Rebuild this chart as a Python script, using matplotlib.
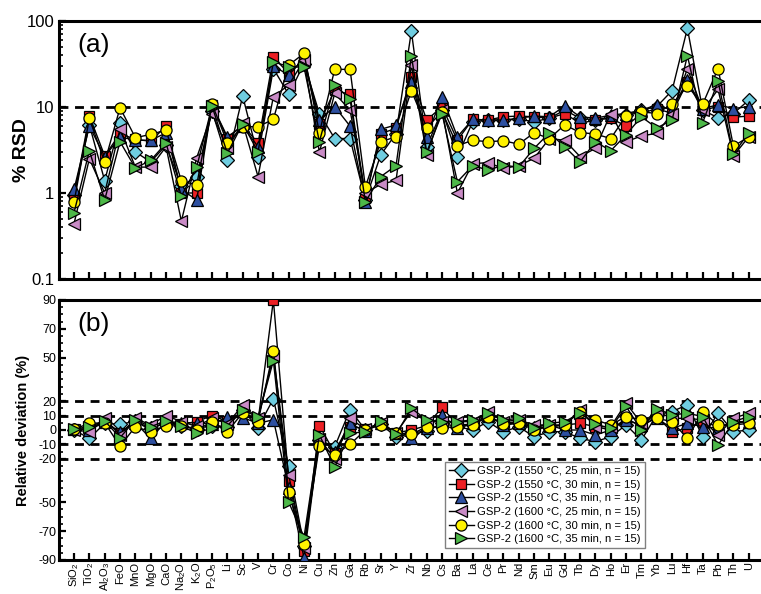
import numpy as np
import matplotlib
matplotlib.use('Agg')
import matplotlib.pyplot as plt
from matplotlib.ticker import FixedLocator, MultipleLocator, NullFormatter

plt.rcParams['font.family'] = ['Liberation Sans', 'DejaVu Sans']
plt.rcParams['mathtext.default'] = 'regular'

#categories on the x axis
elements = ['SiO$_2$', 'TiO$_2$', 'Al$_2$O$_3$', 'FeO', 'MnO', 'MgO', 'CaO', 'Na$_2$O', 'K$_2$O',
            'P$_2$O$_5$', 'Li', 'Sc', 'V', 'Cr', 'Co', 'Ni', 'Cu', 'Zn', 'Ga', 'Rb', 'Sr', 'Y',
            'Zr', 'Nb', 'Cs', 'Ba', 'La', 'Ce', 'Pr', 'Nd', 'Sm', 'Eu', 'Gd', 'Tb', 'Dy', 'Ho',
            'Er', 'Tm', 'Yb', 'Lu', 'Hf', 'Ta', 'Pb', 'Th', 'U']

labels = ['GSP-2 (1550 °C, 25 min, n = 15)',
          'GSP-2 (1550 °C, 30 min, n = 15)',
          'GSP-2 (1550 °C, 35 min, n = 15)',
          'GSP-2 (1600 °C, 25 min, n = 15)',
          'GSP-2 (1600 °C, 30 min, n = 15)',
          'GSP-2 (1600 °C, 35 min, n = 15)']

#(a) % RSD
rsd_1550_25 = [0.95, 6.2, 1.39, 6.6, 3.0, 2.3, 3.6, 1.2, 1.55, 9.0, 2.4, 13.4, 2.65, 28, 14.0,
               32, 8.4, 4.3, 4.3, 0.83, 2.77, 4.9, 76, 3.45, 9.2, 2.65, 6.75, 7.0, 7.05, 7.2,
               6.75, 7.4, 9.2, 7.4, 7.05, 7.7, 8.05, 9.2, 10.1, 15.5, 82, 9.2, 7.5, 8.4, 12.0]
rsd_1550_30 = [0.9, 7.9, 2.7, 4.9, 4.2, 4.0, 6.0, 1.0, 1.0, 10.6, 4.3, 6.2, 3.8, 37.9, 24.7,
               35.8, 6.4, 15.7, 14.0, 0.87, 4.9, 5.65, 22.5, 7.05, 10.1, 4.1, 7.2, 7.05, 7.7, 7.85,
               7.7, 7.4, 8.4, 6.45, 7.05, 7.4, 6.0, 8.4, 9.6, 8.4, 19.7, 9.2, 10.1, 7.6, 7.85]
rsd_1550_35 = [1.1, 6.0, 2.65, 4.5, 4.1, 4.1, 5.0, 1.1, 0.83, 10.5, 4.5, 6.0, 3.45, 30, 23.5,
               36.7, 7.1, 10.1, 6.0, 0.79, 5.5, 6.2, 19.6, 4.5, 13.2, 4.5, 7.2, 7.05, 7.05, 7.4,
               7.85, 7.7, 10.3, 7.7, 7.4, 8.05, 8.4, 9.2, 10.6, 9.2, 20.6, 9.6, 10.6, 9.6, 10.1]
rsd_1600_25 = [0.44, 2.5, 1.0, 5.6, 2.0, 2.0, 3.45, 0.47, 2.57, 8.4, 3.3, 6.5, 1.55, 13.2, 18,
               35, 2.97, 14.4, 9.2, 1.0, 1.26, 1.4, 30.7, 2.77, 9.2, 1.0, 2.2, 2.25, 1.93, 2.08,
               2.53, 4.3, 4.1, 2.65, 3.3, 8.4, 3.95, 4.6, 4.95, 8.4, 28, 9.2, 16, 2.7, 4.5]
rsd_1600_30 = [0.78, 7.4, 2.27, 9.8, 4.4, 4.8, 5.4, 1.38, 1.24, 10.8, 3.85, 5.9, 5.9, 7.2, 30.7,
               42, 5.0, 27.4, 27.4, 1.18, 3.95, 4.5, 15.5, 5.75, 8.8, 3.55, 4.1, 3.95, 4.05, 3.7,
               5.0, 4.3, 6.2, 5.05, 4.85, 4.3, 7.9, 8.8, 8.4, 10.8, 17.5, 10.8, 28, 3.5, 4.5]
rsd_1600_35 = [0.59, 3.1, 0.83, 3.95, 1.95, 2.4, 3.8, 0.92, 2.0, 10.2, 2.9, 6.4, 3.0, 33.6, 29.4,
               29, 3.95, 18, 12.4, 0.79, 1.55, 2.08, 39.3, 3.0, 8.4, 1.35, 2.08, 1.85, 2.1, 2.0,
               3.3, 5.0, 3.45, 2.3, 3.95, 3.1, 4.75, 7.7, 5.7, 7.05, 39.5, 6.6, 20, 2.85, 5.0]

#(b) relative deviation (%)
dev_1550_25 = [0, -5.8, 4.6, 4, 6, 1.2, 5, 3, 1, 3, 2.3, 14, 1.5, 21.6, -25,
               -80, -6.9, -11.6, 14, 0, 4, -4.7, -2, -0.7, 4.6, 2.3, 0, 5.8, -1.2, 2.3,
               -4.7, -1.2, -1.2, -5.8, -8, -4.7, 3.5, -7, 10.5, 12.8, 17.4, -4.7, 11.6, -1.2, 0]
dev_1550_30 = [0.5, 1, 6, -2.3, 6, 0, 6, 4, 5.8, 10, 6, 12.8, 6, 90, -35,
               -84, 3.1, -16, 2.3, 1, 4, -2, 0, 3, 15.6, 3.5, 4, 9.3, 4.6, 5.8,
               1.2, 2.3, 3.5, 4.6, 2.3, 0, 8, 2.3, 9.3, -1.2, 1.2, 5.8, 2.3, 4.6, 5.8]
dev_1550_35 = [1, 0, 5.5, -1.2, 5, -5.8, 6, 5, 5.1, 4, 8.8, 8.6, 4.6, 7.1, -40,
               -88.5, -5, -15, 4.6, -1, 5, -2, -5.8, 1.2, 10.5, 1.2, 4.6, 10.5, 3.5, 4.6,
               2.3, 3.5, 0, 0, -3.5, 0, 7, 3.5, 8.1, 1.2, 4.6, 2.3, 1.2, 5.8, 5.8]
dev_1600_25 = [0, -1.2, 8, -3.5, 8, 3.5, 10, 5.8, 2.5, 8, 4.5, 17, 8, 51.4, -31.3,
               -82, -6, -19.8, 8.1, 0.5, 5, -2, 12.8, 5.8, 5.8, 5.8, 5.8, 12.8, 5.8, 7,
               3.5, 3.5, 3.5, 14, 2.3, 2.3, 18.6, 4.6, 12.8, 8.1, 8.1, 7, -3.5, 8.1, 11.6]
dev_1600_30 = [0.5, 4.6, 5, -11.2, 2.3, -1.2, 2.8, 3, 0, 5.8, -1.2, 12, 5.8, 55, -43,
               -79, -10.8, -17, -10, 0, 3.5, -2, -3, 2.3, 1.6, 2.3, 3.5, 9.3, 4, 5,
               0, 2.3, 3.5, 12.8, 7, 3.5, 9.3, 7, 8.1, 5.8, -5.8, 12.8, 3.5, 3.5, 4.6]
dev_1600_35 = [0.7, 2.3, 6.3, -5.3, 7, 2.3, 6.3, 2.8, -2.3, 1.6, 3.0, 14, 8.8, 48, -50,
               -74, -3.4, -25.6, -2.3, -1.2, 6.3, -3.0, 15, 7, 5.8, 5.8, 7, 11.6, 7, 8,
               1.2, 4.6, 5.8, 11.6, 4, 1.2, 16.3, 0, 14.7, 10.5, 11.6, 9.3, -10.5, 5.8, 9.3]

rsd = [rsd_1550_25, rsd_1550_30, rsd_1550_35, rsd_1600_25, rsd_1600_30, rsd_1600_35]
dev = [dev_1550_25, dev_1550_30, dev_1550_35, dev_1600_25, dev_1600_30, dev_1600_35]

#marker style for each series
markers = ['D', 's', '^', '<', 'o', '>']
colors = ['#6fcde0', '#ec2024', '#2d4fa0', '#c98bc6', '#fff200', '#4db848']
msizes = [7.5, 7, 8.5, 8.5, 8, 8.5]

x = np.arange(len(elements))

fig = plt.figure(figsize=(7.61, 5.94), dpi=100)
ax1 = fig.add_axes([59/761, 1 - 279/594, 1 - 59/761, 258/594])
ax2 = fig.add_axes([59/761, 1 - 560/594, 1 - 59/761, 260/594])

dash = (0, (3.2, 2.4))

for ax in (ax1, ax2):
    for side in ('left', 'top', 'bottom'):
        ax.spines[side].set_linewidth(2.2)
    ax.spines['right'].set_visible(False)
    ax.set_xlim(-0.98, 44.8)
    ax.set_xticks(x)
    ax.tick_params(axis='x', direction='in', length=5, width=1.6, top=False)
    ax.tick_params(axis='y', which='major', direction='in', length=5, width=1.6, right=False)
    ax.tick_params(axis='y', which='minor', direction='in', length=3, width=1.2, right=False)

#plot series
for i in range(6):
    ax1.plot(x, rsd[i], color='black', lw=1, marker=markers[i], ms=msizes[i],
             mfc=colors[i], mec='black', mew=0.9, zorder=3 + i)
    ax2.plot(x, dev[i], color='black', lw=1, marker=markers[i], ms=msizes[i],
             mfc=colors[i], mec='black', mew=0.9, zorder=3 + i, label=labels[i])

#panel (a)
ax1.set_yscale('log')
ax1.set_ylim(0.1, 100)
ax1.set_yticks([0.1, 1, 10, 100])
ax1.set_yticklabels(['0.1', '1', '10', '100'], fontsize=12)
ax1.yaxis.set_minor_formatter(NullFormatter())
ax1.axhline(10, color='black', lw=2, linestyle=dash, zorder=1)
ax1.set_xticklabels([])
ax1.set_ylabel('% RSD', fontsize=14, fontweight='bold')
ax1.yaxis.set_label_coords(-0.041, 0.5)
ax1.text(0.026, 0.955, '(a)', transform=ax1.transAxes, fontsize=19, va='top', ha='left')

#panel (b)
ax2.set_ylim(-90, 90)
yt = [-90, -70, -50, -20, -10, 0, 10, 20, 50, 70, 90]
ax2.yaxis.set_major_locator(FixedLocator(yt))
ax2.yaxis.set_minor_locator(MultipleLocator(5))
ax2.set_yticklabels([str(v) for v in yt], fontsize=9)
ax2.tick_params(axis='y', pad=2)
for v in (-20, -10, 10, 20):
    ax2.axhline(v, color='black', lw=2, linestyle=dash, zorder=1)
ax2.set_xticklabels(elements, rotation=90, fontsize=8)
ax2.tick_params(axis='x', pad=1.5)
ax2.set_ylabel('Relative deviation (%)', fontsize=10.5, fontweight='bold')
ax2.yaxis.set_label_coords(-0.042, 0.5)
ax2.text(0.026, 0.955, '(b)', transform=ax2.transAxes, fontsize=19, va='top', ha='left')

leg = ax2.legend(loc='lower left', bbox_to_anchor=(0.55, 0.046), fontsize=8.1,
                 frameon=True, fancybox=False, framealpha=1, edgecolor='#808080',
                 handlelength=2.2, handletextpad=0.3, labelspacing=0.32,
                 borderpad=0.35, borderaxespad=0)
leg.get_frame().set_linewidth(1)
leg.set_zorder(20)

fig.savefig('out.png', dpi=100)
